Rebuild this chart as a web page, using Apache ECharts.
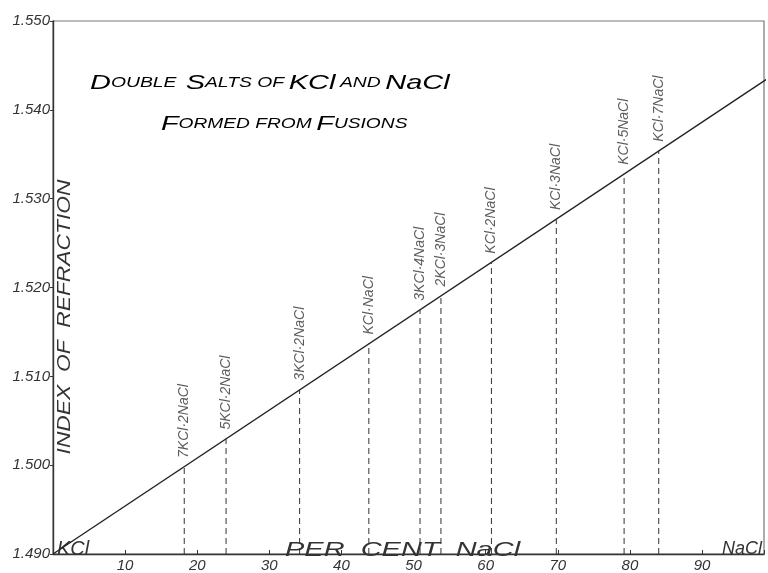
<!DOCTYPE html>
<html>
<head>
<meta charset="utf-8">
<script src="https://cdn.jsdelivr.net/npm/echarts@6/dist/echarts.min.js"></script>
<style>html,body{margin:0;padding:0;background:#fff;}#c{width:768px;height:573px;}</style>
</head>
<body>
<div id="c"></div>
<script>
// Data
const compounds = ['7KCl·2NaCl','5KCl·2NaCl','3KCl·2NaCl','KCl·NaCl','3KCl·4NaCl','2KCl·3NaCl','KCl·2NaCl','KCl·3NaCl','KCl·5NaCl','KCl·7NaCl'];
const percentNaCl = [18.2, 24.0, 34.2, 43.8, 50.9, 53.8, 60.8, 69.8, 79.2, 84.0];
const refractiveIndex = [1.4998, 1.5030, 1.5085, 1.5137, 1.5175, 1.5191, 1.5228, 1.5277, 1.5328, 1.5354];
const lineX = [0, 100];
const lineY = [1.490, 1.544];
const xTickLabels = ['10','20','30','40','50','60','70','80','90'];
const yTickLabels = ['1.490','1.500','1.510','1.520','1.530','1.540','1.550'];

const FONT = 'Liberation Sans';
const INK = '#333';
const chart = echarts.init(document.getElementById('c'));

const series = [];
series.push({
  type: 'line', symbol: 'none', silent: true, clip: true,
  data: lineX.map((x, i) => [x, lineY[i]]),
  lineStyle: { color: '#222', width: 1.4 }
});
percentNaCl.forEach((x, i) => {
  series.push({
    type: 'line', symbol: 'none', silent: true,
    data: [[x, 1.490], [x, refractiveIndex[i]]],
    lineStyle: { color: '#333', width: 1, type: [6, 4] }
  });
});
series.push({
  type: 'scatter', symbolSize: 0, silent: true,
  data: percentNaCl.map((x, i) => ({ value: [x, refractiveIndex[i]], name: compounds[i] })),
  label: {
    show: true, position: 'top', distance: 9, rotate: 90,
    align: 'left', verticalAlign: 'middle',
    formatter: p => p.name,
    fontFamily: FONT, fontStyle: 'italic', fontSize: 14, color: INK
  }
});

const big = { fontFamily: FONT, fontStyle: 'italic', fontSize: 21, color: INK };
const small = { fontFamily: FONT, fontStyle: 'italic', fontSize: 14, color: INK };

chart.setOption({
  animation: false,
  backgroundColor: '#fff',
  grid: { left: 53, top: 21, width: 711, height: 536, show: true, borderColor: '#777', borderWidth: 1.2, backgroundColor: 'transparent' },
  xAxis: {
    type: 'value', min: 0, max: 98.6, interval: 10,
    axisLine: { show: true, lineStyle: { color: '#333', width: 1.4 } },
    axisTick: { show: true, inside: true, length: 4, lineStyle: { color: '#333' } },
    splitLine: { show: false },
    axisLabel: {
      margin: 4,
      formatter: v => { const s = String(Math.round(v)); return xTickLabels.includes(s) ? s : ''; },
      fontFamily: FONT, fontStyle: 'italic', fontSize: 15, color: INK
    }
  },
  yAxis: {
    type: 'value', min: 1.49, max: 1.55, interval: 0.01,
    axisLine: { show: true, lineStyle: { color: '#333', width: 1.4 } },
    axisTick: { show: true, inside: false, length: 3, lineStyle: { color: '#333' } },
    splitLine: { show: false },
    axisLabel: {
      margin: 3,
      formatter: v => { const s = v.toFixed(3); return yTickLabels.includes(s) ? s : ''; },
      fontFamily: FONT, fontStyle: 'italic', fontSize: 15, color: INK
    }
  },
  series: series,
  graphic: [
    {
      type: 'text', x: 90, y: 73, scaleX: 1.38,
      style: {
        text: '{b|D}{s|OUBLE}  {b|S}{s|ALTS OF} {b|KCl} {s|AND} {b|NaCl}',
        rich: { b: big, s: small }
      }
    },
    {
      type: 'text', x: 161, y: 114, scaleX: 1.37,
      style: {
        text: '{b|F}{s|ORMED FROM} {b|F}{s|USIONS}',
        rich: { b: big, s: small }
      }
    },
    {
      type: 'text', x: 65, y: 317, rotation: Math.PI / 2, scaleX: 1.2,
      style: {
        text: 'INDEX  OF  REFRACTION', align: 'center', verticalAlign: 'middle',
        fontFamily: FONT, fontStyle: 'italic', fontSize: 19, fill: INK
      }
    },
    {
      type: 'text', x: 285, y: 540, scaleX: 1.38,
      style: { text: 'PER  CENT  NaCl', fontFamily: FONT, fontStyle: 'italic', fontSize: 21, fill: INK }
    },
    {
      type: 'text', x: 57, y: 539,
      style: { text: 'KCl', fontFamily: FONT, fontStyle: 'italic', fontSize: 20, fill: INK }
    },
    {
      type: 'text', x: 722, y: 540,
      style: { text: 'NaCl', fontFamily: FONT, fontStyle: 'italic', fontSize: 18, fill: INK }
    }
  ]
});
</script>
</body>
</html>
